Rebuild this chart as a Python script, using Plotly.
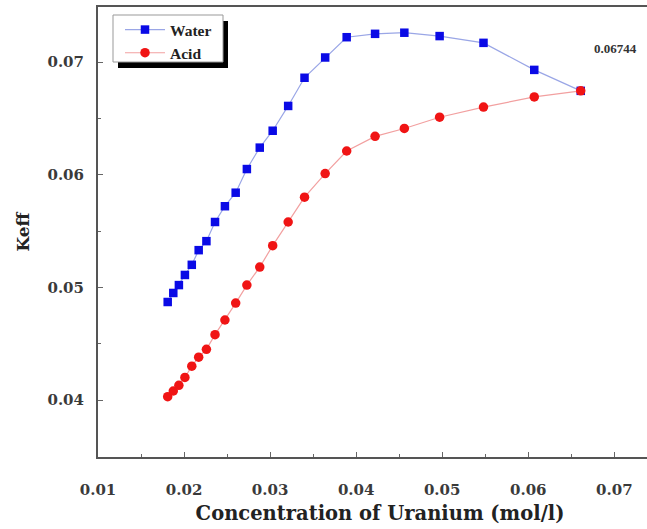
import plotly.graph_objects as go

# ---- data ----
conc = [0.0181, 0.01875, 0.0194, 0.0201, 0.0209, 0.0217, 0.0226, 0.0236, 0.02475,
        0.0260, 0.0273, 0.0288, 0.0303, 0.0321, 0.0340, 0.0364, 0.0389, 0.0422,
        0.0456, 0.0497, 0.0548, 0.0607, 0.0661]
keff_water = [0.0487, 0.0495, 0.0502, 0.0511, 0.0520, 0.0533, 0.0541, 0.0558, 0.0572,
              0.0584, 0.0605, 0.0624, 0.0639, 0.0661, 0.0686, 0.0704, 0.0722, 0.0725,
              0.0726, 0.0723, 0.0717, 0.0693, 0.06744]
keff_acid = [0.0403, 0.0408, 0.0413, 0.0420, 0.0430, 0.0438, 0.0445, 0.0458, 0.0471,
             0.0486, 0.0502, 0.0518, 0.0537, 0.0558, 0.0580, 0.0601, 0.0621, 0.0634,
             0.0641, 0.0651, 0.0660, 0.0669, 0.06744]
x_ticks = [0.01, 0.02, 0.03, 0.04, 0.05, 0.06, 0.07]
y_ticks = [0.04, 0.05, 0.06, 0.07]
end_label = "0.06744"

# The reference is cropped on the right: the frame runs past the window edge.
W, H = 662, 529
L, T = 98, 7
plot_bottom = 457
B = H - plot_bottom
R = 0
pw, ph = W - L - R, H - T - B

def px(xw):
    return (xw - L) / pw

def py(yw):
    return 1 - (yw - T) / ph

fig = go.Figure()
fig.add_trace(go.Scatter(
    x=conc, y=keff_water, mode="lines+markers", name="Water",
    line=dict(color="#9aa6e6", width=1.2),
    marker=dict(symbol="square", size=8.5, color="#0a0ae6"),
))
fig.add_trace(go.Scatter(
    x=conc, y=keff_acid, mode="lines+markers", name="Acid",
    line=dict(color="#f2a0a0", width=1.2),
    marker=dict(symbol="circle", size=9.5, color="#f01414"),
))

tickfont = dict(family="DejaVu Serif", size=15, color="#3a3a3a", weight="bold")
axis_common = dict(
    showline=True, linecolor="#555555", linewidth=2,
    ticks="inside", ticklen=5, tickwidth=1.2, tickcolor="#666666",
    showgrid=False, zeroline=False, tickfont=tickfont,
)
fig.update_xaxes(
    range=[0.01, 0.01 + pw / 8605.0], tickvals=x_ticks,
    ticktext=[f"{v:.2f}" for v in x_ticks], mirror=True,
    ticklabelstandoff=18,
    minor=dict(ticks="inside", ticklen=3, tickcolor="#666666", dtick=0.005, tick0=0.005,
               showgrid=False),
    title=dict(text="Concentration of Uranium (mol/l)", standoff=8,
               font=dict(family="DejaVu Serif", size=19.5, color="#222222", weight="bold")),
    **axis_common,
)
fig.update_yaxes(
    range=[0.07 - (457 - 62) / 11267.0, 0.07 + (62 - 7) / 11267.0],
    tickvals=y_ticks, ticktext=[f"{v:.2f}" for v in y_ticks], mirror=False,
    ticklabelstandoff=9,
    minor=dict(ticks="inside", ticklen=3, tickcolor="#666666", dtick=0.005, tick0=0.005,
               showgrid=False),
    title=dict(text="Keff", standoff=14,
               font=dict(family="DejaVu Serif", size=17, color="#222222", weight="bold")),
    **axis_common,
)

# legend box with drop shadow
fig.add_shape(type="rect", xref="paper", yref="paper",
              x0=px(118), x1=px(228), y0=py(68), y1=py(21),
              fillcolor="black", line=dict(width=0), layer="above")
fig.add_shape(type="rect", xref="paper", yref="paper",
              x0=px(113), x1=px(223), y0=py(62), y1=py(15),
              fillcolor="white", line=dict(color="#999999", width=1), layer="above")

fig.update_layout(
    width=W, height=H,
    margin=dict(l=L, r=R, t=T, b=B),
    paper_bgcolor="white", plot_bgcolor="white",
    showlegend=True,
    legend=dict(x=px(120), y=py(13), xanchor="left", yanchor="top",
                bgcolor="rgba(0,0,0,0)", borderwidth=0, itemwidth=40,
                tracegroupgap=0,
                font=dict(family="Liberation Serif", size=15.5, color="#222222", weight="bold")),
    annotations=[dict(x=0.0701, y=0.0712, xref="x", yref="y", text=end_label,
                      showarrow=False,
                      font=dict(family="Liberation Serif", size=13, color="#333333", weight="bold"))],
)

fig.write_html(
    "out.html",
    config={"displayModeBar": False},
    post_script=("document.documentElement.style.overflow='hidden';"
                 "document.body.style.margin='0';"
                 "document.body.style.overflow='hidden';"),
)
